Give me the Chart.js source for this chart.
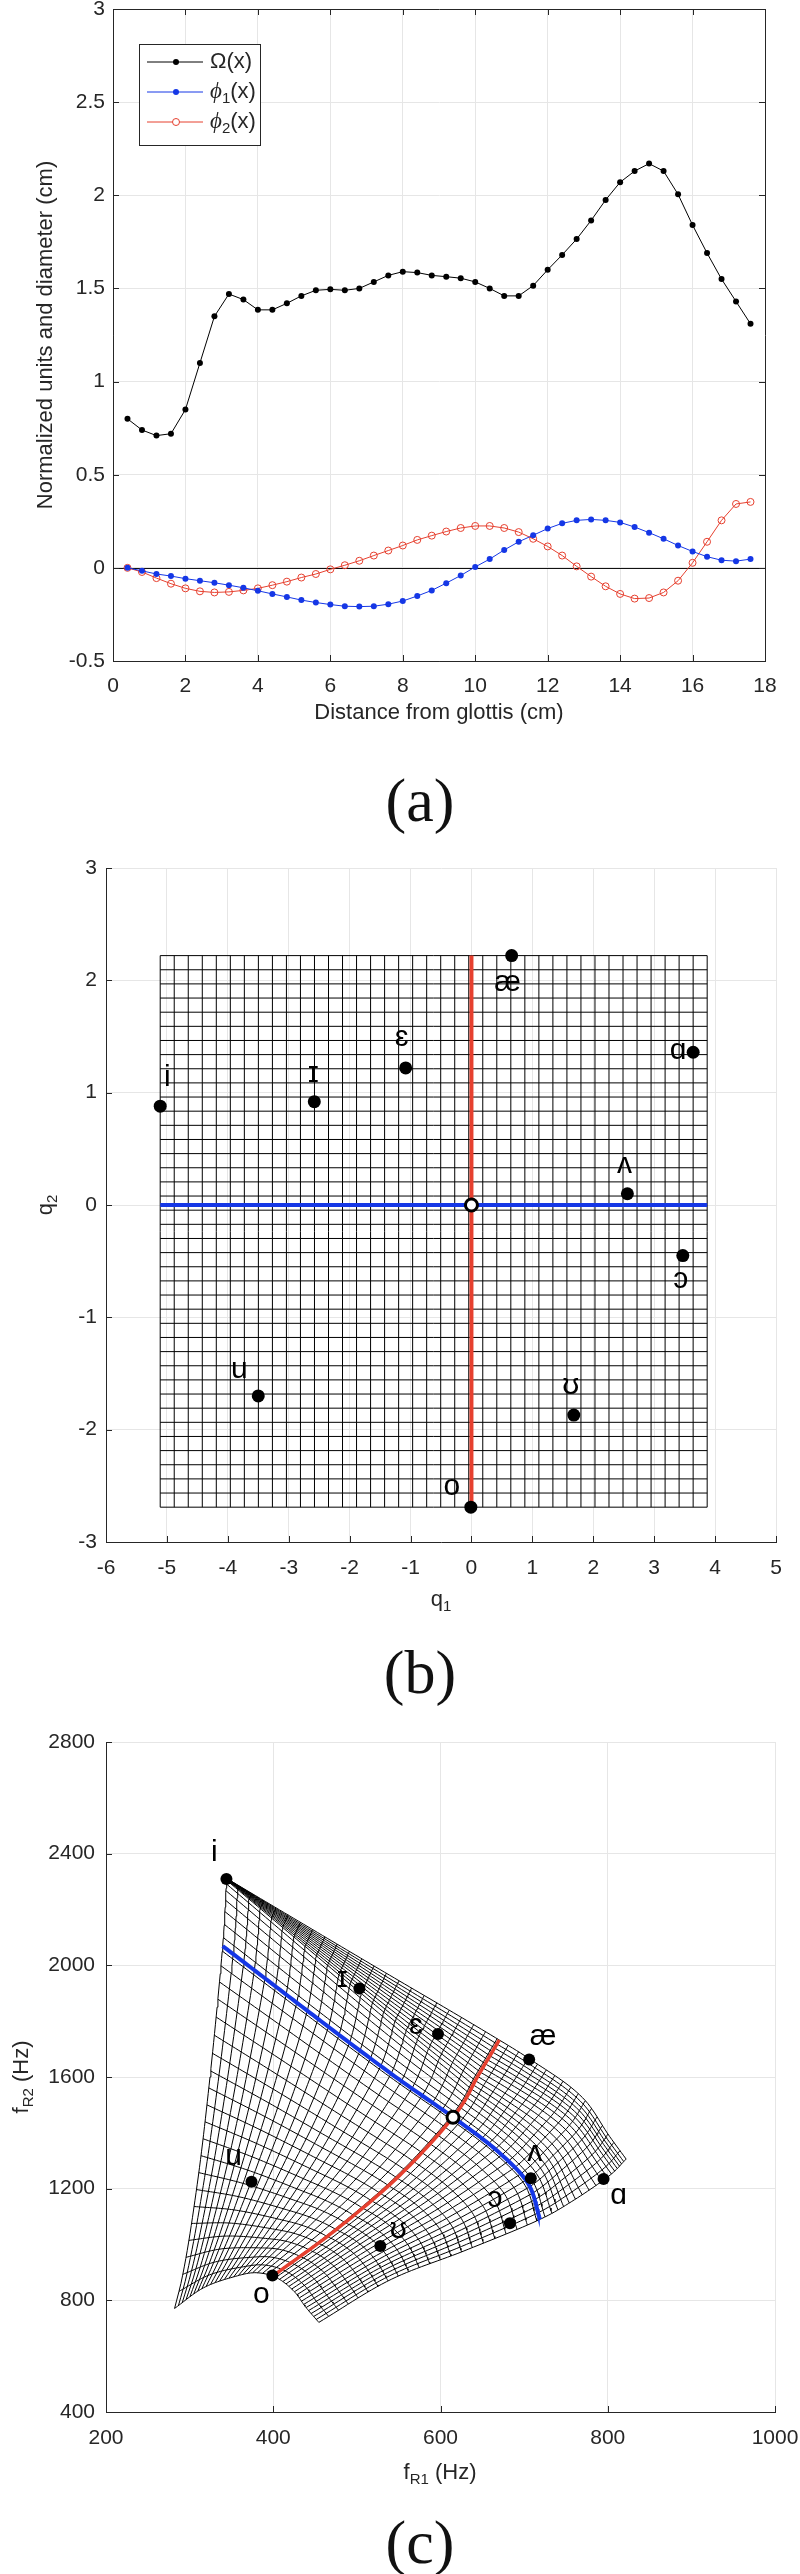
<!DOCTYPE html>
<html>
<head>
<meta charset="utf-8">
<script src="https://cdn.jsdelivr.net/npm/chart.js@4.4.1/dist/chart.umd.min.js"></script>
<style>
  body { margin: 0; background: #fff; width: 800px; height: 2574px; position: relative; overflow: hidden; }
  canvas { position: absolute; left: 0; }
  .panel { position: absolute; left: 420px; transform: translate(-50%, -50%); font: 62px "Liberation Serif", "DejaVu Serif", serif; color: #111; line-height: 1; }
</style>
</head>
<body>
<canvas id="chartA" width="800" height="750" style="top:0px"></canvas>
<div class="panel" style="top:800px">(a)</div>
<canvas id="chartB" width="800" height="790" style="top:840px"></canvas>
<div class="panel" style="top:1672px">(b)</div>
<canvas id="chartC" width="800" height="790" style="top:1712px"></canvas>
<div class="panel" style="top:2542px">(c)</div>

<script>
// ---- (a) tract shape and modes ----
var distance = [0.4, 0.8, 1.2, 1.6, 2.0, 2.4, 2.8, 3.2, 3.6, 4.0, 4.4, 4.8, 5.2, 5.6, 6.0, 6.4, 6.8, 7.2, 7.6, 8.0, 8.4, 8.8,
                9.2, 9.6, 10.0, 10.4, 10.8, 11.2, 11.6, 12.0, 12.4, 12.8, 13.2, 13.6, 14.0, 14.4, 14.8, 15.2, 15.6, 16.0, 16.4, 16.8, 17.2, 17.6];
var omega = [0.80, 0.74, 0.71, 0.72, 0.85, 1.10, 1.35, 1.47, 1.44, 1.385, 1.385, 1.42, 1.46, 1.49, 1.495, 1.49, 1.50, 1.535, 1.57, 1.59, 1.585, 1.57,
             1.563, 1.555, 1.535, 1.50, 1.46, 1.46, 1.515, 1.60, 1.68, 1.765, 1.865, 1.975, 2.07, 2.13, 2.17, 2.13, 2.005, 1.84, 1.69, 1.55, 1.43, 1.31];
var phi1 = [0.0, -0.016, -0.033, -0.044, -0.058, -0.069, -0.08, -0.093, -0.107, -0.123, -0.14, -0.156, -0.173, -0.186, -0.197, -0.206, -0.208, -0.206, -0.195, -0.178, -0.151, -0.121,
            -0.082, -0.041, 0.005, 0.047, 0.096, 0.14, 0.175, 0.211, 0.239, 0.255, 0.26, 0.255, 0.244, 0.219, 0.189, 0.156, 0.12, 0.088, 0.06, 0.041, 0.036, 0.047];
var phi2 = [0.0, -0.022, -0.055, -0.085, -0.11, -0.126, -0.132, -0.129, -0.121, -0.11, -0.093, -0.074, -0.052, -0.033, -0.008, 0.014, 0.038, 0.066, 0.093, 0.12, 0.15, 0.173,
            0.195, 0.214, 0.225, 0.225, 0.214, 0.192, 0.156, 0.115, 0.066, 0.008, -0.047, -0.099, -0.14, -0.165, -0.162, -0.132, -0.069, 0.027, 0.14, 0.255, 0.343, 0.354];

// ---- (b),(c) vowels ----
var vowelSymbols = ['i', 'ɪ', 'ɛ', 'æ', 'ɑ', 'ʌ', 'ɔ', 'ʊ', 'u', 'o'];
var vowelQ1 = [-5.11, -2.58, -1.08, 0.66, 3.64, 2.56, 3.47, 1.68, -3.50, -0.01];
var vowelQ2 = [0.88, 0.92, 1.22, 2.22, 1.36, 0.10, -0.45, -1.87, -1.70, -2.69];
var vowelF1 = [344, 503, 597, 706, 795, 708, 683, 528, 374, 399];
var vowelF2 = [2309, 1917, 1754, 1663, 1235, 1237, 1076, 995, 1225, 889];
var neutralQ = [0, 0];
var neutralF = [615, 1456];

// q-space mesh extent and number of cells
var Q1_MIN = -5.11, Q1_MAX = 3.87, Q2_MIN = -2.69, Q2_MAX = 2.22, MESH_N = 39;

// mesh outline and axes in (c): [q, fR1, fR2]
var leftEdge   = [[-2.69, 282, 771], [-2.48, 290.5, 873], [-1.80, 308.4, 1201], [-0.97, 324.4, 1601], [0, 339.5, 2069], [0.88, 344.3, 2306], [2.22, 345, 2310]];
var rightEdge  = [[-2.69, 454.5, 721], [-1.785, 539.6, 873], [-0.89, 629, 978], [0, 719, 1090], [0.67, 759, 1158], [1.35, 800, 1242], [2.22, 822, 1306]];
var bottomEdge = [[-5.11, 282, 771], [-3.39, 317, 845.5], [-1.84, 353.8, 885], [-0.86, 378, 899], [0, 399.5, 887], [1.47, 424, 835], [2.70, 439, 775], [3.87, 454.5, 721]];
var topEdge    = [[-5.11, 345, 2310], [-2.55, 507.3, 2021], [0, 670.3, 1732.5], [0.67, 706.2, 1665.4], [2.19, 770.8, 1523], [3.26, 802.7, 1385], [3.87, 822, 1306]];
var q1Axis     = [[-5.11, 339.5, 2069], [-1.35, 545, 1603], [0, 615, 1456], [1.5, 671, 1327], [2.57, 704, 1222], [3.87, 719, 1090]];
var q2Axis     = [[-2.69, 399.5, 887], [-1.80, 475.9, 1055], [-0.88, 551.6, 1249], [0, 615, 1456], [1.11, 645, 1605], [2.22, 670.3, 1732.5]];

var xTicksA = [0, 18, 2], yTicksA = [-0.5, 3, 0.5];
var xTicksB = [-6, 5, 1], yTicksB = [-3, 3, 1];
var xTicksC = [200, 1000, 200], yTicksC = [400, 2800, 400];

// ---- styles ----
var INK = '#262626', GRID = '#e6e6e6';
var FONT = '"Liberation Sans", Arial, sans-serif';
var TITLE_FONT = '22px ' + FONT, SUB_FONT = '15px ' + FONT, VOWEL_FONT = '30px ' + FONT;
var BLUE = '#1537e6', RED = '#e6402f';
var offsetsB = [[7, -28], [-1, -28], [-4, -30], [-4, 27], [-15, -1], [-3, -29], [-2, 24], [-3, -29], [-19, -26], [-19, -20]];
var offsetsC = [[-12, -26], [-17, -10], [-22, -8], [14, -23], [15, 17], [4, -26], [-15, -25], [18, -16], [-18, -25], [-11, 19]];

Chart.defaults.font.family = FONT;

function monotone(xs, ys) {
  var n = xs.length, d = [], m = [];
  for (var i = 0; i < n - 1; i++) d.push((ys[i + 1] - ys[i]) / (xs[i + 1] - xs[i]));
  m[0] = d[0]; m[n - 1] = d[n - 2];
  for (var i = 1; i < n - 1; i++) m[i] = d[i - 1] * d[i] <= 0 ? 0 : (d[i - 1] + d[i]) / 2;
  for (var i = 0; i < n - 1; i++) {
    if (d[i] === 0) { m[i] = 0; m[i + 1] = 0; continue; }
    var a = m[i] / d[i], b = m[i + 1] / d[i], s = a * a + b * b;
    if (s > 9) { var k = 3 / Math.sqrt(s); m[i] = k * a * d[i]; m[i + 1] = k * b * d[i]; }
  }
  return function (x) {
    var i = 0;
    while (i < n - 2 && x > xs[i + 1]) i++;
    var h = xs[i + 1] - xs[i], t = (x - xs[i]) / h;
    var t2 = t * t, t3 = t2 * t;
    return (2 * t3 - 3 * t2 + 1) * ys[i] + (t3 - 2 * t2 + t) * h * m[i] + (-2 * t3 + 3 * t2) * ys[i + 1] + (t3 - t2) * h * m[i + 1];
  };
}
function curve(anchors) {
  var ts = anchors.map(function (a) { return a[0]; });
  var fx = monotone(ts, anchors.map(function (a) { return a[1]; }));
  var fy = monotone(ts, anchors.map(function (a) { return a[2]; }));
  return function (q) { return [fx(q), fy(q)]; };
}
var L = curve(leftEdge), R = curve(rightEdge), B = curve(bottomEdge), T = curve(topEdge), H = curve(q1Axis), V = curve(q2Axis);

// blend the four patches that meet at the q1 / q2 axes
function toFormant(q1, q2) {
  var left = q1 <= 0, low = q2 <= 0;
  var a1 = left ? Q1_MIN : 0, b1 = left ? 0 : Q1_MAX;
  var a2 = low ? Q2_MIN : 0, b2 = low ? 0 : Q2_MAX;
  var cb = low ? B : H, ct = low ? H : T, cl = left ? L : V, cr = left ? V : R;
  var u = (q1 - a1) / (b1 - a1), v = (q2 - a2) / (b2 - a2);
  var pb = cb(q1), pt = ct(q1), pl = cl(q2), pr = cr(q2);
  var c00 = cb(a1), c10 = cb(b1), c01 = ct(a1), c11 = ct(b1);
  var out = [0, 1].map(function (k) {
    return (1 - v) * pb[k] + v * pt[k] + (1 - u) * pl[k] + u * pr[k]
      - ((1 - u) * (1 - v) * c00[k] + u * (1 - v) * c10[k] + (1 - u) * v * c01[k] + u * v * c11[k]);
  });
  return { x: out[0], y: out[1] };
}

function richText(ctx, parts, x, y, vertical, align) {
  ctx.save();
  ctx.translate(x, y);
  if (vertical) ctx.rotate(-Math.PI / 2);
  ctx.fillStyle = INK;
  ctx.textBaseline = 'middle';
  ctx.textAlign = 'left';
  var fonts = parts.map(function (p) { return p.font || (p.sub ? SUB_FONT : TITLE_FONT); });
  var widths = parts.map(function (p, i) { ctx.font = fonts[i]; return ctx.measureText(p.t).width; });
  var total = widths.reduce(function (a, b) { return a + b; }, 0);
  var cx = align === 'left' ? 0 : -total / 2;
  parts.forEach(function (p, i) {
    ctx.font = fonts[i];
    ctx.fillText(p.t, cx, p.sub ? 7 : 0);
    cx += widths[i];
  });
  ctx.restore();
}

function innerTicks(chart, box) {
  var ctx = chart.ctx, a = chart.chartArea, xs = chart.scales.x, ys = chart.scales.y;
  ctx.save();
  ctx.strokeStyle = INK;
  ctx.lineWidth = 1;
  ctx.beginPath();
  xs.ticks.forEach(function (t) {
    var px = Math.round(xs.getPixelForValue(t.value)) + 0.5;
    ctx.moveTo(px, a.bottom); ctx.lineTo(px, a.bottom - 6);
    if (box) { ctx.moveTo(px, a.top); ctx.lineTo(px, a.top + 6); }
  });
  ys.ticks.forEach(function (t) {
    var py = Math.round(ys.getPixelForValue(t.value)) + 0.5;
    ctx.moveTo(a.left, py); ctx.lineTo(a.left + 6, py);
    if (box) { ctx.moveTo(a.right, py); ctx.lineTo(a.right - 6, py); }
  });
  if (box) ctx.rect(Math.round(a.left) + 0.5, Math.round(a.top) + 0.5, Math.round(a.width), Math.round(a.height));
  ctx.stroke();
  ctx.restore();
}

function scale(t, pad, fit) {
  return {
    type: 'linear', min: t[0], max: t[1],
    ticks: {
      stepSize: t[2], padding: pad, color: INK, autoSkip: false, maxRotation: 0,
      font: { family: FONT, size: 21 },
      callback: function (v) { return String(Math.round(v * 100) / 100); }
    },
    grid: { color: GRID, drawTicks: false },
    border: { display: true, color: INK },
    afterFit: fit
  };
}
function fitX(h) { return function (s) { s.height = h; s.paddingLeft = 0; s.paddingRight = 0; }; }
function fitY(w) { return function (s) { s.width = w; s.paddingTop = 0; s.paddingBottom = 0; }; }

function baseOptions(padTop, padRight, xs, ys, plugins) {
  return {
    responsive: false, animation: false, events: [],
    layout: { padding: { top: padTop, right: padRight, left: 0, bottom: 0 } },
    scales: { x: xs, y: ys },
    plugins: { legend: { display: false }, tooltip: { enabled: false } }
  };
}

function lineData(xs, ys) { return xs.map(function (x, i) { return { x: x, y: ys[i] }; }); }

function vowelLabels(chart, xs, ys, offsets) {
  var ctx = chart.ctx;
  ctx.save();
  ctx.font = VOWEL_FONT;
  ctx.fillStyle = '#000';
  ctx.textAlign = 'center';
  ctx.textBaseline = 'middle';
  vowelSymbols.forEach(function (s, i) {
    var px = chart.scales.x.getPixelForValue(xs[i]), py = chart.scales.y.getPixelForValue(ys[i]);
    ctx.fillText(s, px + offsets[i][0], py + offsets[i][1]);
  });
  ctx.restore();
}

// ================= (a) =================
var legendRows = [
  { parts: [{ t: 'Ω(x)' }], color: '#000', open: false },
  { parts: [{ t: 'ϕ', font: 'italic 23px "Liberation Serif", "DejaVu Serif", serif' }, { t: '1', sub: true }, { t: '(x)' }], color: BLUE, open: false },
  { parts: [{ t: 'ϕ', font: 'italic 23px "Liberation Serif", "DejaVu Serif", serif' }, { t: '2', sub: true }, { t: '(x)' }], color: RED, open: true }
];
var panelA = {
  id: 'panelA',
  beforeDatasetsDraw: function (chart) {
    var ctx = chart.ctx, a = chart.chartArea, y0 = Math.round(chart.scales.y.getPixelForValue(0)) + 0.5;
    ctx.save(); ctx.strokeStyle = '#111'; ctx.lineWidth = 1;
    ctx.beginPath(); ctx.moveTo(a.left, y0); ctx.lineTo(a.right, y0); ctx.stroke(); ctx.restore();
  },
  afterDraw: function (chart) {
    var ctx = chart.ctx;
    innerTicks(chart, true);
    ctx.save();
    ctx.fillStyle = '#fff'; ctx.fillRect(139.5, 44.5, 121, 101);
    ctx.strokeStyle = INK; ctx.lineWidth = 1; ctx.strokeRect(139.5, 44.5, 121, 101);
    legendRows.forEach(function (r, i) {
      var y = 62 + i * 30;
      ctx.strokeStyle = r.color; ctx.lineWidth = 1;
      ctx.beginPath(); ctx.moveTo(147, y); ctx.lineTo(203, y); ctx.stroke();
      ctx.beginPath(); ctx.arc(176, y, r.open ? 3.5 : 3, 0, Math.PI * 2);
      if (r.open) { ctx.fillStyle = '#fff'; ctx.fill(); ctx.stroke(); } else { ctx.fillStyle = r.color; ctx.fill(); }
      richText(ctx, r.parts, 210, y, false, 'left');
    });
    ctx.restore();
    richText(ctx, [{ t: 'Distance from glottis (cm)' }], 439, 713, false);
    richText(ctx, [{ t: 'Normalized units and diameter (cm)' }], 46, 335, true);
  }
};
new Chart(document.getElementById('chartA'), {
  type: 'scatter',
  data: {
    datasets: [
      { data: lineData(distance, omega), showLine: true, borderColor: '#000', backgroundColor: '#000', borderWidth: 1, pointRadius: 3, pointBorderWidth: 0 },
      { data: lineData(distance, phi1), showLine: true, borderColor: BLUE, backgroundColor: BLUE, borderWidth: 1, pointRadius: 3, pointBorderWidth: 0 },
      { data: lineData(distance, phi2), showLine: true, borderColor: RED, backgroundColor: 'rgba(0,0,0,0)', borderWidth: 1, pointRadius: 3.5, pointBorderWidth: 1, pointBorderColor: RED }
    ]
  },
  options: baseOptions(9, 35, scale(xTicksA, 13, fitX(89)), scale(yTicksA, 8, fitY(113))),
  plugins: [panelA]
});

// ================= (b) =================
var meshQ1 = [], meshQ2 = [];
for (var k = 0; k <= MESH_N; k++) {
  meshQ1.push(Q1_MIN + k * (Q1_MAX - Q1_MIN) / MESH_N);
  meshQ2.push(Q2_MIN + k * (Q2_MAX - Q2_MIN) / MESH_N);
}
function meshSet(data) {
  return { data: data, showLine: true, borderColor: '#000', borderWidth: 1, pointRadius: 0, pointHoverRadius: 0, fill: false };
}
var setsB = [
  { data: [{ x: neutralQ[0], y: neutralQ[1] }], pointRadius: 6, backgroundColor: '#fff', borderColor: '#000', pointBorderWidth: 3 },
  { data: lineData(vowelQ1, vowelQ2), pointRadius: 6.5, backgroundColor: '#000', pointBorderWidth: 0 },
  { data: [{ x: 0, y: Q2_MIN }, { x: 0, y: Q2_MAX }], showLine: true, borderColor: RED, borderWidth: 4, pointRadius: 0 },
  { data: [{ x: Q1_MIN, y: 0 }, { x: Q1_MAX, y: 0 }], showLine: true, borderColor: BLUE, borderWidth: 4, pointRadius: 0 }
];
meshQ1.forEach(function (q) { setsB.push(meshSet([{ x: q, y: Q2_MIN }, { x: q, y: Q2_MAX }])); });
meshQ2.forEach(function (q) { setsB.push(meshSet([{ x: Q1_MIN, y: q }, { x: Q1_MAX, y: q }])); });

new Chart(document.getElementById('chartB'), {
  type: 'scatter',
  data: { datasets: setsB },
  options: baseOptions(28, 24, scale(xTicksB, 14, fitX(88)), scale(yTicksB, 9, fitY(106))),
  plugins: [{
    id: 'panelB',
    afterDraw: function (chart) {
      innerTicks(chart, false);
      vowelLabels(chart, vowelQ1, vowelQ2, offsetsB);
      richText(chart.ctx, [{ t: 'q' }, { t: '1', sub: true }], 441, 760, false);
      richText(chart.ctx, [{ t: 'q' }, { t: '2', sub: true }], 46, 365, true);
    }
  }]
});

// ================= (c) =================
function mapLineQ1(q) { var pts = []; for (var j = 0; j <= 80; j++) pts.push(toFormant(q, Q2_MIN + j * (Q2_MAX - Q2_MIN) / 80)); return pts; }
function mapLineQ2(q) { var pts = []; for (var j = 0; j <= 100; j++) pts.push(toFormant(Q1_MIN + j * (Q1_MAX - Q1_MIN) / 100, q)); return pts; }

var setsC = [
  { data: [{ x: neutralF[0], y: neutralF[1] }], pointRadius: 6, backgroundColor: '#fff', borderColor: '#000', pointBorderWidth: 3 },
  { data: lineData(vowelF1, vowelF2), pointRadius: 6, backgroundColor: '#000', pointBorderWidth: 0 },
  { data: mapLineQ2(0), showLine: true, borderColor: BLUE, borderWidth: 4, pointRadius: 0 },
  { data: mapLineQ1(0), showLine: true, borderColor: RED, borderWidth: 3.5, pointRadius: 0 }
];
meshQ1.forEach(function (q) { setsC.push(meshSet(mapLineQ1(q))); });
meshQ2.forEach(function (q) { setsC.push(meshSet(mapLineQ2(q))); });

new Chart(document.getElementById('chartC'), {
  type: 'scatter',
  data: { datasets: setsC },
  options: baseOptions(30, 25, scale(xTicksC, 14, fitX(90)), scale(yTicksC, 11, fitY(106))),
  plugins: [{
    id: 'panelC',
    afterDraw: function (chart) {
      innerTicks(chart, false);
      vowelLabels(chart, vowelF1, vowelF2, offsetsC);
      richText(chart.ctx, [{ t: 'f' }, { t: 'R1', sub: true }, { t: ' (Hz)' }], 440, 761, false);
      richText(chart.ctx, [{ t: 'f' }, { t: 'R2', sub: true }, { t: ' (Hz)' }], 22, 365, true);
    }
  }]
});
</script>
</body>
</html>
